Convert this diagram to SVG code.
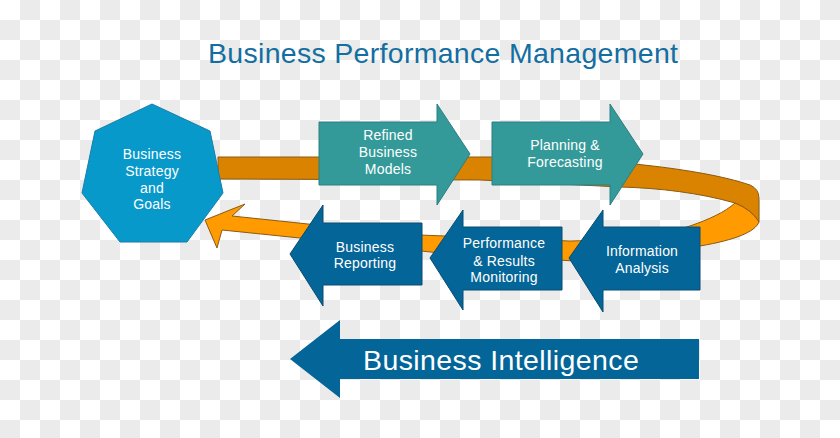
<svg xmlns="http://www.w3.org/2000/svg" width="840" height="438" viewBox="0 0 840 438">
  <defs>
    <pattern id="checker" x="0" y="0" width="40" height="40" patternUnits="userSpaceOnUse">
      <rect width="40" height="40" fill="#ffffff"/>
      <rect x="20" y="0" width="20" height="20" fill="#ebebeb"/>
      <rect x="0" y="20" width="20" height="20" fill="#ebebeb"/>
    </pattern>
  </defs>
  <style>
    .lbl { font-family: "Liberation Sans", Arial, sans-serif; font-size: 14px; fill: #ffffff; text-anchor: middle; letter-spacing: 0.2px; }
    .teal { fill: #349a99; stroke: #2b7f80; stroke-width: 1; }
    .blue { fill: #046598; stroke: #0a4c70; stroke-width: 1; }
    .ring-dark { fill: #d98300; stroke: #8a5a14; stroke-width: 1; }
    .ring-light { fill: #ff9a00; stroke: #8a5a14; stroke-width: 1; }
  </style>
  <rect width="840" height="438" fill="url(#checker)"/>

  <g id="connectors">
    <path class="ring-dark" d="M218,157 L500,157 C600,158 700,168 750,185 Q759,189 759,198 L759,222 Q752,210 735,203 C700,193 660,188 620,187 L480,180 L218,179 Z"/>
    <path class="ring-light" d="M759,222 C755,232 735,240 700,246 C660,254 620,260 575,261 L440,253 L300,238 L222,230 L217,248 L205,220 L245,204 L232,216 L308,224 L420,235 L570,241 C620,240 665,234 690,226 C710,219 725,212 735,203 Q752,210 759,222 Z"/>
  </g>

  <g id="node-strategy">
    <polygon points="152,104 210,131 223,193 187,242 120,242 82,193 95,131" fill="#0899cb" stroke="#1a7fa8" stroke-width="1"/>
    <text class="lbl" x="152" y="159">Business</text>
    <text class="lbl" x="152" y="176">Strategy</text>
    <text class="lbl" x="152" y="193">and</text>
    <text class="lbl" x="152" y="209">Goals</text>
  </g>

  <g id="node-refined">
    <polygon class="teal" points="319,122 437,122 437,104 470,154 437,205 437,185 319,185"/>
    <text class="lbl" x="388" y="140">Refined</text>
    <text class="lbl" x="388" y="157">Business</text>
    <text class="lbl" x="388" y="174">Models</text>
  </g>

  <g id="node-planning">
    <polygon class="teal" points="492,122 610,122 610,104 643,154 610,205 610,185 492,185"/>
    <text class="lbl" x="565" y="150">Planning &amp;</text>
    <text class="lbl" x="565" y="167">Forecasting</text>
  </g>

  <g id="node-information">
    <polygon class="blue" points="700,227 603,227 603,210 569,258 603,312 603,290 700,290"/>
    <text class="lbl" x="642" y="256">Information</text>
    <text class="lbl" x="642" y="273">Analysis</text>
  </g>

  <g id="node-performance">
    <polygon class="blue" points="562,227 463,227 463,210 430,258 463,310 463,290 562,290"/>
    <text class="lbl" x="504" y="248">Performance</text>
    <text class="lbl" x="504" y="266">&amp; Results</text>
    <text class="lbl" x="504" y="282">Monitoring</text>
  </g>

  <g id="node-reporting">
    <polygon class="blue" points="422,223 323,223 323,205 290,254 323,306 323,285 422,285"/>
    <text class="lbl" x="365" y="252">Business</text>
    <text class="lbl" x="365" y="268">Reporting</text>
  </g>

  <g id="node-bi">
    <polygon points="699,339 340,339 340,320 290,359 340,398 340,379 699,379" fill="#046598"/>
    <text x="363" y="370" font-family="Liberation Sans, Arial, sans-serif" font-size="28.5" letter-spacing="0.4" fill="#ffffff">Business Intelligence</text>
  </g>

  <g id="title">
    <text x="208" y="63" font-family="Liberation Sans, Arial, sans-serif" font-size="28.5" letter-spacing="0.3" fill="#136ea1">Business Performance Management</text>
  </g>
</svg>
